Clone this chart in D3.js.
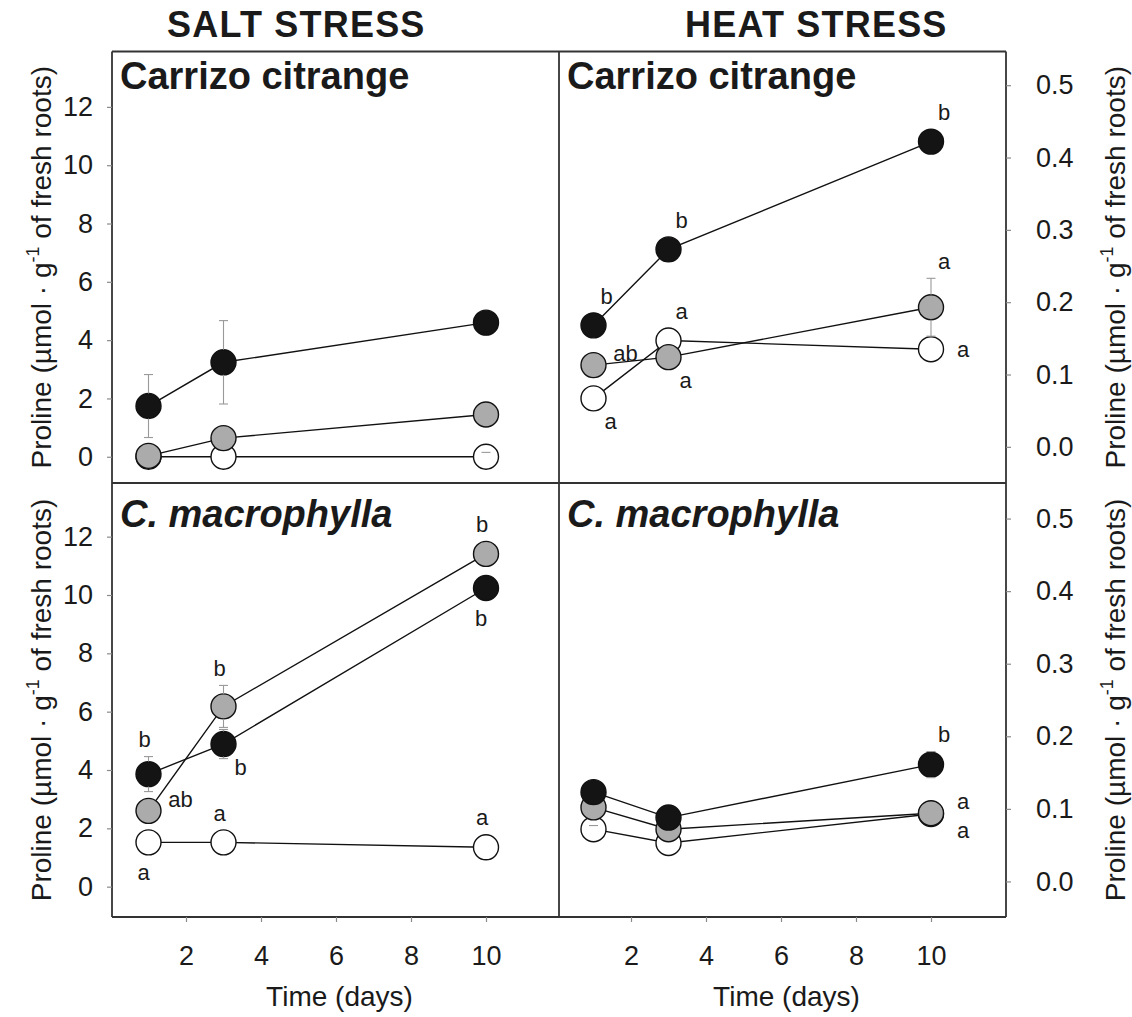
<!DOCTYPE html>
<html>
<head>
<meta charset="utf-8">
<script src="https://cdn.jsdelivr.net/npm/d3@7"></script>
<style>
  body { margin: 0; background: #fff; }
  svg text { font-family: Arial, "Liberation Sans", Helvetica, sans-serif; fill: #1a1a1a; }
</style>
</head>
<body>
<svg id="fig" width="1132" height="1017"></svg>
<script>
// ---- data -------------------------------------------------------------
const days = [1, 3, 10];
const xTicks = [2, 4, 6, 8, 10];
const saltTicks = [0, 2, 4, 6, 8, 10, 12];
const heatTicks = [0, 0.1, 0.2, 0.3, 0.4, 0.5];
const stressTitles = ["SALT STRESS", "HEAT STRESS"];
const rootstocks = ["Carrizo citrange", "C. macrophylla"];
const xTitle = "Time (days)";

// mean proline per series (rows: open, grey, filled markers) at days 1, 3, 10
const saltCarrizoMean = [[0.00, 0.00, 0.00], [0.03, 0.64, 1.45], [1.74, 3.24, 4.60]];
const saltCarrizoErr  = [[0, 0, 0.15], [0, 0, 0], [1.08, 1.43, 0]];
const heatCarrizoMean = [[0.067, 0.147, 0.135], [0.113, 0.124, 0.193], [0.168, 0.273, 0.422]];
const heatCarrizoErr  = [[0, 0, 0], [0, 0, 0.04], [0, 0, 0]];
const saltMacroMean   = [[1.52, 1.52, 1.35], [2.60, 6.18, 11.41], [3.86, 4.89, 10.24]];
const saltMacroErr    = [[0, 0, 0], [0, 0.72, 0], [0.60, 0.50, 0]];
const heatMacroMean   = [[0.072, 0.053, 0.093], [0.102, 0.072, 0.094], [0.123, 0.088, 0.161]];
const heatMacroErr    = [[0.005, 0, 0], [0, 0, 0], [0, 0, 0.018]];

// significance letters: [series, day index, letter, side]
const saltCarrizoLetters = [];
const heatCarrizoLetters = [
  [2, 0, "b", "NE"], [2, 1, "b", "NE"], [2, 2, "b", "NE"],
  [1, 2, "a", "NE"], [0, 2, "a", "E"], [1, 0, "ab", "ENE"],
  [0, 1, "a", "NE"], [1, 1, "a", "SE"], [0, 0, "a", "SE"]
];
const saltMacroLetters = [
  [2, 0, "b", "N"], [1, 0, "ab", "ENE"], [0, 0, "a", "S"],
  [1, 1, "b", "N"], [2, 1, "b", "SE"], [0, 1, "a", "N"],
  [1, 2, "b", "N"], [2, 2, "b", "S"], [0, 2, "a", "N"]
];
const heatMacroLetters = [[2, 2, "b", "NE"], [1, 2, "a", "ENE"], [0, 2, "a", "ESE"]];

// ---- styling / layout --------------------------------------------------
const markerFill = ["#ffffff", "#ababab", "#141414"];
const R = 12.5;
const frameX = [112, 559, 1006];
const frameY = [51.5, 483, 917];
const ink = "#1a1a1a";

// placement of letters relative to marker centre
const sides = {
  N:   { dx: -4, above: true },
  NE:  { dx: 13, above: true },
  E:   { dx: 32, dy: 0 },
  ENE: { dx: 32, dy: -12 },
  ESE: { dx: 32, dy: 16 },
  SE:  { dx: 17, dy: 23 },
  S:   { dx: -5, dy: 30 }
};

const svg = d3.select("#fig");

const xScales = [
  d3.scaleLinear().domain([0, 12]).range([111, 561]),
  d3.scaleLinear().domain([0, 12]).range([556, 1006])
];

const panels = [
  { col: 0, row: 0, mean: saltCarrizoMean, err: saltCarrizoErr, letters: saltCarrizoLetters,
    y: d3.scaleLinear().domain([-0.9, 13.9]).range([frameY[1], frameY[0]]) },
  { col: 1, row: 0, mean: heatCarrizoMean, err: heatCarrizoErr, letters: heatCarrizoLetters,
    y: d3.scaleLinear().domain([-0.05, 0.5466]).range([frameY[1], frameY[0]]) },
  { col: 0, row: 1, mean: saltMacroMean, err: saltMacroErr, letters: saltMacroLetters,
    y: d3.scaleLinear().domain([-1.04, 13.84]).range([frameY[2], frameY[1]]) },
  { col: 1, row: 1, mean: heatMacroMean, err: heatMacroErr, letters: heatMacroLetters,
    y: d3.scaleLinear().domain([-0.049, 0.549]).range([frameY[2], frameY[1]]) }
];

// ---- headings ------------------------------------------------------------
svg.selectAll("text.stress").data(stressTitles).join("text")
  .attr("class", "stress")
  .attr("x", (d, i) => [167, 685][i])
  .attr("y", 37)
  .style("font-size", "36px").style("font-weight", "bold").style("letter-spacing", "1.2px")
  .text(d => d);

// ---- frames ------------------------------------------------------------
const frame = svg.append("g").attr("stroke", "#333").attr("stroke-width", 1.8).attr("fill", "none");
frameY.forEach(yv => frame.append("line").attr("x1", frameX[0]).attr("x2", frameX[2]).attr("y1", yv).attr("y2", yv));
frameX.forEach(xv => frame.append("line").attr("x1", xv).attr("x2", xv).attr("y1", frameY[0]).attr("y2", frameY[2]));

function styleAxis(g) {
  g.select(".domain").remove();
  g.selectAll(".tick line").attr("stroke", "#8a8a8a").attr("stroke-width", 1.2);
  g.selectAll(".tick text").style("font-size", "27px").style("fill", ink)
    .style("font-family", 'Arial, "Liberation Sans", Helvetica, sans-serif');
}

// ---- panels ------------------------------------------------------------
panels.forEach(p => {
  const x = xScales[p.col];
  const y = p.y;
  const g = svg.append("g");

  // y axis (left for salt, right for heat)
  if (p.col === 0) {
    g.append("g").attr("transform", `translate(${frameX[0]},0)`)
      .call(d3.axisLeft(y).tickValues(saltTicks).tickSize(5).tickPadding(14).tickFormat(d3.format("d")))
      .call(styleAxis);
  } else {
    g.append("g").attr("transform", `translate(${frameX[2]},0)`)
      .call(d3.axisRight(y).tickValues(heatTicks).tickSize(5).tickPadding(25).tickFormat(d3.format(".1f")))
      .call(styleAxis);
  }
  if (p.row === 1) {
    g.append("g").attr("transform", `translate(0,${frameY[2]})`)
      .call(d3.axisBottom(x).tickValues(xTicks).tickSize(5).tickPadding(24).tickFormat(d3.format("d")))
      .call(styleAxis);
  }

  // panel title
  g.append("text")
    .attr("x", frameX[p.col] + 8)
    .attr("y", p.row === 0 ? 89 : 527)
    .style("font-size", "38px").style("font-weight", "bold")
    .style("font-style", p.row === 1 ? "italic" : "normal")
    .text(rootstocks[p.row]);

  // series: open, grey, filled (filled drawn last, on top)
  p.mean.forEach((vals, s) => {
    const pts = vals.map((v, i) => ({ x: x(days[i]), y: y(v), e: p.err[s][i], v }));
    g.append("path")
      .attr("d", d3.line().x(d => d.x).y(d => d.y)(pts))
      .attr("fill", "none").attr("stroke", "#111").attr("stroke-width", 1.4);
    g.selectAll(null).data(pts).join("circle")
      .attr("cx", d => d.x).attr("cy", d => d.y).attr("r", R)
      .attr("fill", markerFill[s]).attr("stroke", "#111").attr("stroke-width", 1.4);
    // error bars: hidden behind filled markers, caps visible inside open ones
    pts.filter(d => d.e > 0).forEach(d => {
      const top = y(d.v + d.e), bot = y(d.v - d.e);
      const eb = g.append("g").attr("stroke", "#999").attr("stroke-width", 1.1);
      const half = d.y - top;
      if (half < R) {
        if (s === 0) {
          eb.append("line").attr("x1", d.x - 4.5).attr("x2", d.x + 4.5).attr("y1", top).attr("y2", top);
        }
      } else {
        eb.append("line").attr("x1", d.x).attr("x2", d.x).attr("y1", top).attr("y2", d.y - R);
        eb.append("line").attr("x1", d.x).attr("x2", d.x).attr("y1", d.y + R).attr("y2", bot);
        eb.append("line").attr("x1", d.x - 4.5).attr("x2", d.x + 4.5).attr("y1", top).attr("y2", top);
        eb.append("line").attr("x1", d.x - 4.5).attr("x2", d.x + 4.5).attr("y1", bot).attr("y2", bot);
      }
    });
  });

  // significance letters
  p.letters.forEach(([s, i, txt, side]) => {
    const v = p.mean[s][i], e = p.err[s][i];
    const cx = x(days[i]), cy = y(v);
    const pl = sides[side];
    let ly;
    if (pl.above) ly = Math.min(cy - R, y(v + e)) - 17;
    else ly = cy + pl.dy;
    g.append("text")
      .attr("x", cx + pl.dx).attr("y", ly).attr("dy", "0.35em")
      .attr("text-anchor", "middle")
      .style("font-size", "22px")
      .text(txt);
  });
});

// ---- axis titles ---------------------------------------------------------
function yTitle(xBase, yCenter) {
  const t = svg.append("text")
    .attr("transform", `translate(${xBase},${yCenter}) rotate(-90)`)
    .attr("text-anchor", "middle")
    .style("font-size", "28px");
  t.append("tspan").text("Proline (\u00b5mol \u00b7 g");
  t.append("tspan").attr("dy", -12).style("font-size", "18px").text("-1");
  t.append("tspan").attr("dy", 12).text(" of fresh roots)");
}
[0, 1].forEach(r => {
  const yc = (frameY[r] + frameY[r + 1]) / 2;
  yTitle(51, yc);
  yTitle(1125, yc);
});

[0, 1].forEach(c => {
  svg.append("text")
    .attr("x", (frameX[c] + frameX[c + 1]) / 2 + 4)
    .attr("y", 1006)
    .attr("text-anchor", "middle")
    .style("font-size", "28px")
    .text(xTitle);
});
</script>
</body>
</html>
